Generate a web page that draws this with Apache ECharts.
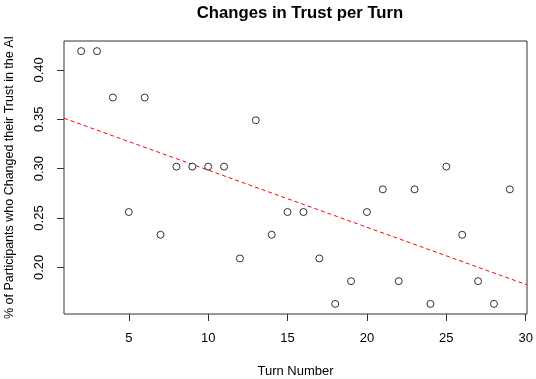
<!DOCTYPE html>
<html>
<head>
<meta charset="utf-8">
<script src="https://cdn.jsdelivr.net/npm/echarts@6/dist/echarts.min.js"></script>
<style>
  html, body { margin: 0; padding: 0; background: #fff; }
  #chart { width: 536px; height: 379px; }
</style>
</head>
<body>
<div id="chart"></div>
<script>
// share of participants who changed trust, per turn
const turns = [2, 3, 4, 5, 6, 7, 8, 9, 10, 11, 12, 13, 14, 15, 16, 17, 18, 19, 20, 21, 22, 23, 24, 25, 26, 27, 28, 29];
const shares = [0.419, 0.419, 0.372, 0.256, 0.372, 0.233, 0.302, 0.302, 0.302, 0.302, 0.209, 0.349, 0.233, 0.256,
  0.256, 0.209, 0.163, 0.186, 0.256, 0.279, 0.186, 0.279, 0.163, 0.302, 0.233, 0.186, 0.163, 0.279];
const xTicks = [5, 10, 15, 20, 25, 30];
const yTicks = [0.20, 0.25, 0.30, 0.35, 0.40];

// R style axis range: data range padded 4% each side
function pad(arr) {
  const lo = Math.min(...arr), hi = Math.max(...arr);
  const d = (hi - lo) * 0.04;
  return [lo - d, hi + d];
}
const xRange = pad(turns);
const yRange = pad(shares);

// least squares fit, drawn across the whole plot like abline()
const n = turns.length;
const mx = turns.reduce((a, b) => a + b, 0) / n;
const my = shares.reduce((a, b) => a + b, 0) / n;
let sxy = 0, sxx = 0;
for (let i = 0; i < n; i++) {
  sxy += (turns[i] - mx) * (shares[i] - my);
  sxx += (turns[i] - mx) * (turns[i] - mx);
}
const slope = sxy / sxx;
const icpt = my - slope * mx;
const fitLine = xRange.map(x => [x, icpt + slope * x]);

const chart = echarts.init(document.getElementById('chart'));
const font = 'Liberation Sans, Arial, sans-serif';
chart.setOption({
  animation: false,
  title: {
    text: 'Changes in Trust per Turn',
    left: 295,
    top: 0,
    textAlign: 'center',
    textStyle: { fontFamily: font, fontSize: 16.7, fontWeight: 'bold', color: '#000' }
  },
  grid: {
    left: 64, right: 9, top: 41, bottom: 65,
    outerBoundsMode: 'none',
    show: true, borderColor: '#333', borderWidth: 1, backgroundColor: 'transparent'
  },
  xAxis: {
    type: 'value',
    min: xRange[0], max: xRange[1],
    name: 'Turn Number',
    nameLocation: 'middle',
    nameGap: 51,
    nameTextStyle: { fontFamily: font, fontSize: 13, color: '#000' },
    axisLine: { show: false },
    splitLine: { show: false },
    axisTick: { show: true, length: 7, customValues: xTicks, lineStyle: { color: '#333' } },
    axisLabel: {
      customValues: xTicks, margin: 18,
      fontFamily: font, fontSize: 13, color: '#000'
    }
  },
  yAxis: {
    type: 'value',
    min: yRange[0], max: yRange[1],
    name: '% of Participants who Changed their Trust in the AI',
    nameLocation: 'middle',
    nameGap: 48,
    nameTextStyle: { fontFamily: font, fontSize: 12.5, color: '#000' },
    axisLine: { show: false },
    splitLine: { show: false },
    axisTick: { show: true, length: 7, customValues: yTicks, lineStyle: { color: '#333' } },
    axisLabel: {
      customValues: yTicks, rotate: 90, margin: 18,
      formatter: v => v.toFixed(2),
      fontFamily: font, fontSize: 13, color: '#000'
    }
  },
  series: [
    {
      type: 'scatter',
      data: turns.map((t, i) => [t, shares[i]]),
      symbol: 'circle',
      symbolSize: 7,
      itemStyle: { color: '#fff', borderColor: '#000', borderWidth: 1 },
      z: 3
    },
    {
      type: 'line',
      data: fitLine,
      symbol: 'none',
      lineStyle: { color: '#ff0000', width: 1, type: [4, 3] },
      z: 2
    }
  ]
});
</script>
</body>
</html>
